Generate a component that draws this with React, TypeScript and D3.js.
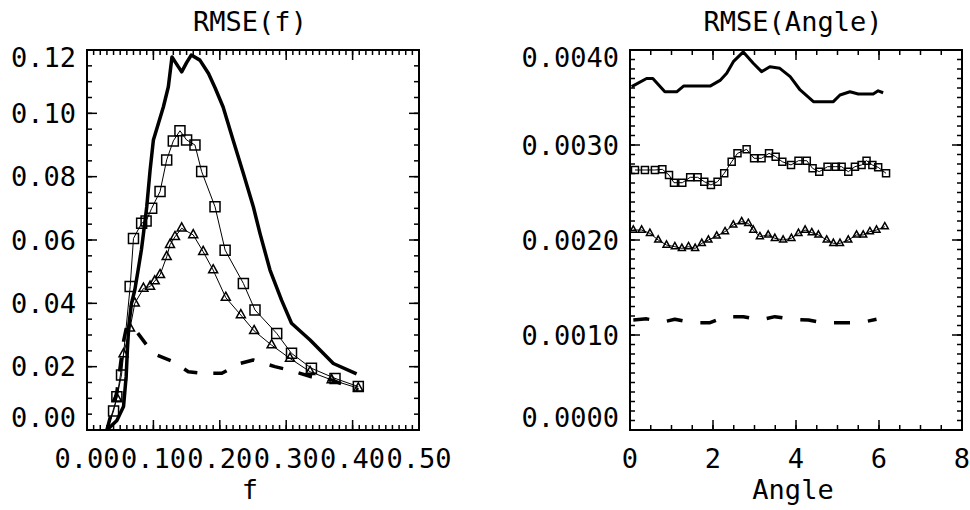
import { useEffect, useRef } from "react";
import { select, scaleLinear, line, range, format } from "d3";

type Pt = [number, number];

// RMSE(f) panel, values as [f, rmse]
const fSolid: Pt[] = [
    [0.03, 0], [0.045, 0.003], [0.055, 0.0074], [0.059, 0.017], [0.061, 0.026],
    [0.063, 0.033], [0.067, 0.04], [0.072, 0.0442], [0.077, 0.0505], [0.082, 0.057],
    [0.085, 0.062], [0.09, 0.0705], [0.095, 0.082], [0.1, 0.0916], [0.1075, 0.0968],
    [0.115, 0.102], [0.1225, 0.1084], [0.128, 0.1178], [0.132, 0.1165], [0.1426, 0.1131],
    [0.15, 0.116], [0.157, 0.1184], [0.17, 0.1168], [0.183, 0.1126], [0.193, 0.108],
    [0.205, 0.102], [0.22, 0.0916], [0.2355, 0.081], [0.2505, 0.0705], [0.2605, 0.0621],
    [0.2756, 0.0505], [0.293, 0.041], [0.308, 0.0337], [0.336, 0.0284], [0.371, 0.021],
    [0.406, 0.0177],
];
const fSquares: Pt[] = [
    [0.03, 0], [0.04, 0.006], [0.045, 0.0105], [0.052, 0.0174], [0.065, 0.0453],
    [0.07, 0.0605], [0.0823, 0.0653], [0.089, 0.066], [0.0974, 0.07], [0.11, 0.0753],
    [0.12, 0.0853], [0.13, 0.0913], [0.14, 0.0945], [0.15, 0.0916], [0.1626, 0.09],
    [0.1727, 0.0816], [0.1928, 0.0705], [0.208, 0.0568], [0.2355, 0.0463], [0.253, 0.0379],
    [0.2857, 0.0305], [0.308, 0.0242], [0.338, 0.0195], [0.3735, 0.0163], [0.4086, 0.0137],
];
const fTriangles: Pt[] = [
    [0.03, 0], [0.045, 0.01], [0.055, 0.024], [0.0648, 0.0321], [0.072, 0.04],
    [0.085, 0.0447], [0.095, 0.0453], [0.102, 0.047], [0.11, 0.049], [0.12, 0.0547],
    [0.125, 0.0585], [0.1325, 0.061], [0.1426, 0.0637], [0.16, 0.0616], [0.175, 0.0563],
    [0.19, 0.0505], [0.209, 0.0418], [0.2317, 0.0363], [0.2517, 0.0313], [0.278, 0.0268],
    [0.3057, 0.0226], [0.336, 0.0184], [0.3685, 0.0158], [0.4086, 0.0132],
];
const fDashed: Pt[] = [
    [0.03, 0], [0.045, 0.012], [0.055, 0.028], [0.06, 0.033], [0.075, 0.031],
    [0.09, 0.0268], [0.105, 0.0237], [0.13, 0.0216], [0.1526, 0.0184], [0.175, 0.0179],
    [0.203, 0.0179], [0.2304, 0.021], [0.2505, 0.0221], [0.283, 0.02], [0.303, 0.019],
    [0.338, 0.0168], [0.3685, 0.0158], [0.4086, 0.0126],
];

// RMSE(Angle) panel, [angle, rmse]
const angleSolid: Pt[] = [
    [0.04, 0.003614], [0.4, 0.0037], [0.55, 0.0037], [0.84, 0.00356], [1.125, 0.00356],
    [1.29, 0.00362], [1.93, 0.00362], [2.17, 0.00368], [2.33, 0.003755], [2.49, 0.003877],
    [2.73, 0.00398], [2.97, 0.00386], [3.17, 0.003772], [3.37, 0.003824], [3.61, 0.003807],
    [3.86, 0.003719], [4.1, 0.003579], [4.42, 0.003456], [4.9, 0.003456], [5.06, 0.003526],
    [5.3, 0.00356], [5.5, 0.003537], [5.86, 0.003537], [5.98, 0.00357], [6.1, 0.00355],
];
const angleSquares: Pt[] = [
    [0.12, 0.002737], [0.36, 0.002737], [0.6, 0.002737], [0.78, 0.002744], [0.94, 0.002684],
    [1.06, 0.002603], [1.26, 0.002603], [1.45, 0.00266], [1.63, 0.00266], [1.79, 0.002614],
    [1.95, 0.002579], [2.11, 0.002614], [2.27, 0.002702], [2.45, 0.002824], [2.59, 0.002912],
    [2.81, 0.002954], [2.99, 0.00286], [3.17, 0.00286], [3.35, 0.002912], [3.51, 0.002877],
    [3.67, 0.002824], [3.88, 0.00279], [4.06, 0.002835], [4.26, 0.002835], [4.4, 0.002754],
    [4.56, 0.002719], [4.76, 0.002772], [4.96, 0.002772], [5.1, 0.002772], [5.26, 0.002719],
    [5.42, 0.002772], [5.58, 0.00279], [5.7, 0.002835], [5.84, 0.00279], [5.98, 0.002765],
    [6.17, 0.002702],
];
const angleTriangles: Pt[] = [
    [0.08, 0.002105], [0.28, 0.002105], [0.48, 0.00207], [0.68, 0.002], [0.88, 0.001947],
    [1.08, 0.00193], [1.25, 0.001912], [1.41, 0.00193], [1.57, 0.001912], [1.73, 0.001965],
    [1.89, 0.002], [2.09, 0.002042], [2.29, 0.002088], [2.49, 0.002158], [2.69, 0.002193],
    [2.85, 0.002175], [2.97, 0.002105], [3.13, 0.002035], [3.33, 0.002053], [3.49, 0.002018],
    [3.69, 0.002], [3.89, 0.002018], [4.06, 0.00207], [4.22, 0.002105], [4.38, 0.002077],
    [4.54, 0.002053], [4.74, 0.002], [4.9, 0.001965], [5.06, 0.001965], [5.26, 0.002],
    [5.46, 0.002053], [5.62, 0.002053], [5.78, 0.002088], [5.94, 0.002105], [6.14, 0.00214],
];
const angleDashed: Pt[] = [
    [0.08, 0.001158], [0.4, 0.00117], [0.8, 0.001137], [1.08, 0.001165], [1.49, 0.00113],
    [1.93, 0.00113], [2.29, 0.001193], [2.73, 0.001193], [3.13, 0.001158], [3.49, 0.001193],
    [3.9, 0.001165], [4.3, 0.001158], [4.62, 0.00113], [5.06, 0.00113], [5.56, 0.00113],
    [5.94, 0.001165],
];

// axes
const fTicks = [0, 0.1, 0.2, 0.3, 0.4, 0.5];
const fRmseTicks = [0, 0.02, 0.04, 0.06, 0.08, 0.1, 0.12];
const angleTicks = [0, 2, 4, 6, 8];
const angleRmseTicks = [0, 0.001, 0.002, 0.003, 0.004];

const FONT = "'DejaVu Sans Mono', monospace";
const FONT_SIZE = 27;

function drawPanel(svg: any, cfg: any) {
    const { id, left, right, top, bottom } = cfg;

    const xScale = scaleLinear().domain(cfg.xDomain).range([left, right]);
    const yScale = scaleLinear().domain(cfg.yDomain).range([bottom, top]);

    const g = svg.append("g").attr("class", id);

    svg.select("defs")
        .append("clipPath")
        .attr("id", "clip-" + id)
        .append("rect")
        .attr("x", left)
        .attr("y", top)
        .attr("width", right - left)
        .attr("height", bottom - top);

    // minor + major ticks, pointing inward on all four sides
    const eps = 1e-9;
    const xMinor = range(cfg.xDomain[0], cfg.xDomain[1] + eps, cfg.xMinor);
    const yMinor = range(cfg.yDomain[0], cfg.yDomain[1] + eps, cfg.yMinor);
    const ticks = g.append("g").attr("stroke", "#000").attr("stroke-width", 1.5);

    const addX = (vals: number[], len: number) => {
        vals.forEach((v) => {
            const x = xScale(v);
            ticks.append("line").attr("x1", x).attr("x2", x).attr("y1", bottom).attr("y2", bottom - len);
            ticks.append("line").attr("x1", x).attr("x2", x).attr("y1", top).attr("y2", top + len);
        });
    };
    const addY = (vals: number[], len: number) => {
        vals.forEach((v) => {
            const y = yScale(v);
            ticks.append("line").attr("y1", y).attr("y2", y).attr("x1", left).attr("x2", left + len);
            ticks.append("line").attr("y1", y).attr("y2", y).attr("x1", right).attr("x2", right - len);
        });
    };
    addX(xMinor, 5);
    addY(yMinor, 5);
    addX(cfg.xTicks, 10);
    addY(cfg.yTicks, 10);

    // series
    const content = g.append("g").attr("clip-path", "url(#clip-" + id + ")");
    const myLine = line<Pt>()
        .x((d) => xScale(d[0]))
        .y((d) => yScale(d[1]));

    cfg.series.forEach((s: any) => {
        const path = content
            .append("path")
            .attr("d", myLine(s.data))
            .attr("fill", "none")
            .attr("stroke", "#000")
            .attr("stroke-width", s.width)
            .attr("stroke-linejoin", "round");
        if (s.dash) path.attr("stroke-dasharray", s.dash);

        if (s.marker) {
            const m = s.size;
            content
                .selectAll(".m-" + s.marker + "-" + id)
                .data(s.data.filter((d: Pt) => d[1] > 0))
                .join("path")
                .attr("class", "m-" + s.marker + "-" + id)
                .attr("d", (d: Pt) => {
                    const x = xScale(d[0]);
                    const y = yScale(d[1]);
                    if (s.marker === "square") {
                        return `M${x - m / 2},${y - m / 2}h${m}v${m}h${-m}Z`;
                    }
                    const h = m * 0.9;
                    return `M${x},${y - (h * 2) / 3}L${x + m / 2},${y + h / 3}L${x - m / 2},${y + h / 3}Z`;
                })
                .attr("fill", "none")
                .attr("stroke", "#000")
                .attr("stroke-width", 1.5);
        }
    });

    // frame
    g.append("rect")
        .attr("x", left)
        .attr("y", top)
        .attr("width", right - left)
        .attr("height", bottom - top)
        .attr("fill", "none")
        .attr("stroke", "#000")
        .attr("stroke-width", 2);

    // tick labels
    const labels = g.append("g").attr("font-family", FONT).attr("font-size", FONT_SIZE).attr("fill", "#000");
    cfg.xTicks.forEach((v: number) => {
        labels
            .append("text")
            .attr("x", xScale(v))
            .attr("y", 458)
            .attr("text-anchor", "middle")
            .attr("dominant-baseline", "central")
            .text(cfg.xFmt(v));
    });
    cfg.yTicks.forEach((v: number) => {
        const y = Math.min(Math.max(yScale(v), top + 7), bottom - 13);
        labels
            .append("text")
            .attr("x", left - 11)
            .attr("y", y)
            .attr("text-anchor", "end")
            .attr("dominant-baseline", "central")
            .text(cfg.yFmt(v));
    });

    // title and axis label
    labels
        .append("text")
        .attr("x", (left + right) / 2 - 3)
        .attr("y", 31)
        .attr("text-anchor", "middle")
        .text(cfg.title);
    labels
        .append("text")
        .attr("x", (left + right) / 2 - 3)
        .attr("y", 499)
        .attr("text-anchor", "middle")
        .text(cfg.xLabel);
}

export default function App() {
    const svgRef = useRef<SVGSVGElement>(null);

    useEffect(() => {
        const svg = select(svgRef.current);
        svg.selectAll("*").remove();
        svg.append("defs");

        drawPanel(svg, {
            id: "f",
            left: 87,
            right: 419,
            top: 50,
            bottom: 430,
            xDomain: [0, 0.5],
            yDomain: [0, 0.12],
            xTicks: fTicks,
            yTicks: fRmseTicks,
            xMinor: 0.01,
            yMinor: 0.005,
            xFmt: format(".2f"),
            yFmt: format(".2f"),
            title: "RMSE(f)",
            xLabel: "f",
            series: [
                { data: fSolid, width: 3.5 },
                { data: fSquares, width: 1, marker: "square", size: 10 },
                { data: fTriangles, width: 1, marker: "triangle", size: 9 },
                { data: fDashed, width: 3.5, dash: "14 16" },
            ],
        });

        drawPanel(svg, {
            id: "angle",
            left: 630,
            right: 962,
            top: 50,
            bottom: 430,
            xDomain: [0, 8],
            yDomain: [0, 0.004],
            xTicks: angleTicks,
            yTicks: angleRmseTicks,
            xMinor: 0.5,
            yMinor: 0.0001,
            xFmt: format("d"),
            yFmt: format(".4f"),
            title: "RMSE(Angle)",
            xLabel: "Angle",
            series: [
                { data: angleSolid, width: 3 },
                { data: angleSquares, width: 1, marker: "square", size: 7 },
                { data: angleTriangles, width: 1, marker: "triangle", size: 7 },
                { data: angleDashed, width: 3.5, dash: "16 18" },
            ],
        });
    }, []);

    return (
        <svg
            ref={svgRef}
            width={970}
            height={510}
            style={{ position: "absolute", left: 0, top: 0, background: "#fff" }}
        ></svg>
    );
}
